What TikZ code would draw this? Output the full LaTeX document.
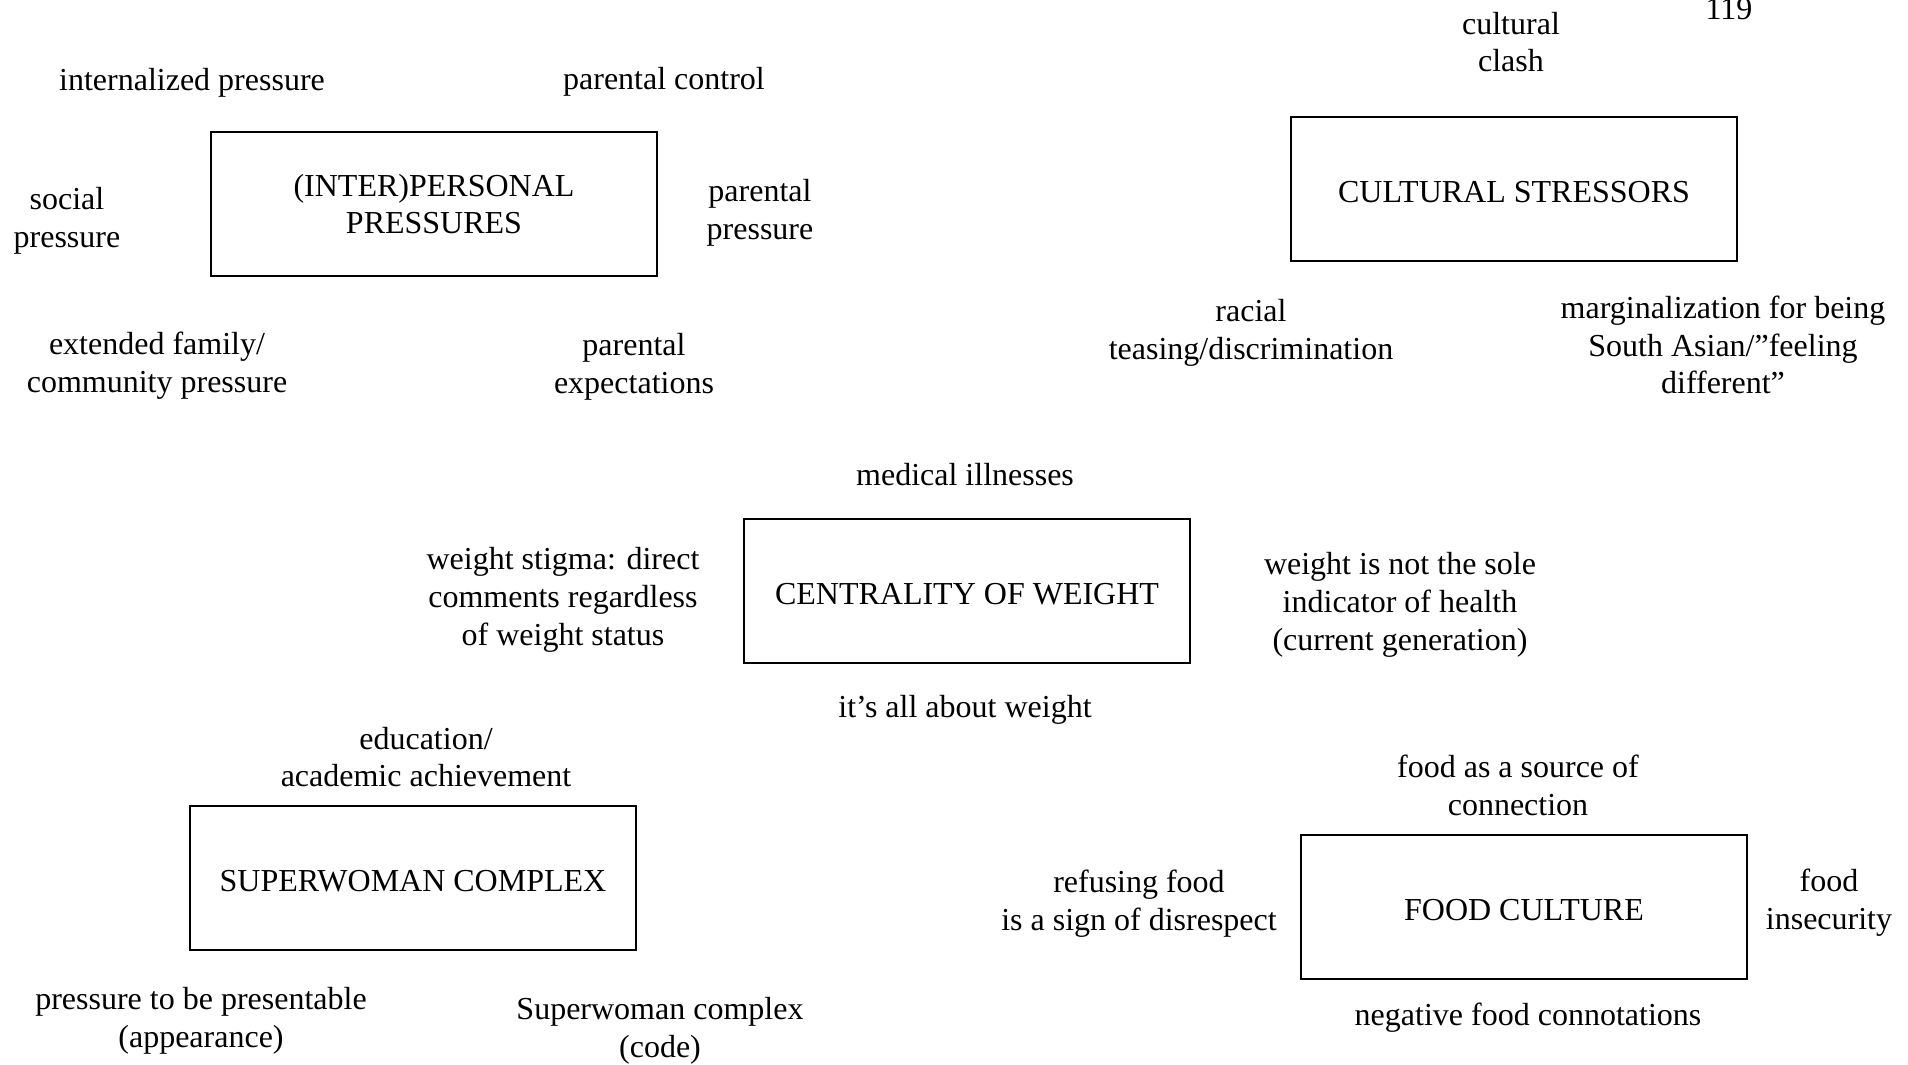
\documentclass[tikz,border=0pt]{standalone}
\usepackage{fontspec}
\setmainfont{Liberation Serif}
\usepackage{tikz}

\tikzset{
	theme box/.style = {draw, line width=1pt, minimum width=223.3pt, minimum height=72.4pt, align=center, inner sep=0pt},
	one line/.style = {text height=13.6pt, text depth=0pt},
	code label/.style = {align=center, inner sep=0pt}
}

\begin{document}
\begin{tikzpicture}[x=0.5pt, y=-0.5pt, font=\fontsize{16}{18.9}\selectfont]
			\useasboundingbox (0, 0) rectangle (1908, 1065);
			% page number
			\node[anchor=base] (pagenum) at (1729, 20) {119};
			% themes
			\node[theme box] (interpersonal) at (434, 204) {(INTER)PERSONAL\\PRESSURES};
			\node[theme box, one line] (cultural) at (1514, 189) {CULTURAL STRESSORS};
			\node[theme box, one line] (weight) at (967, 591) {CENTRALITY OF WEIGHT};
			\node[theme box, one line] (superwoman) at (413, 878) {SUPERWOMAN COMPLEX};
			\node[theme box, one line] (food) at (1524, 907) {FOOD CULTURE};
			% (inter)personal pressures
			\node[code label] (internalized) at (192, 83) {internalized pressure};
			\node[code label] (control) at (664, 82) {parental control};
			\node[code label] (social) at (67, 221) {social\\pressure};
			\node[code label] (parentpress) at (760, 213) {parental\\pressure};
			\node[code label] (family) at (157, 366) {extended family/\\community pressure};
			\node[code label] (expect) at (634, 367) {parental\\expectations};
			% cultural stressors
			\node[code label] (clash) at (1511, 42) {cultural\\clash};
			\node[code label] (racial) at (1251, 333) {racial\\teasing/discrimination};
			\node[code label] (margin) at (1723, 345) {marginalization for being\\South Asian/”feeling\\different”};
			% centrality of weight
			\node[code label] (medical) at (965, 475) {medical illnesses};
			\node[code label] (stigma) at (563, 600) {weight stigma: direct\\comments regardless\\of weight status};
			\node[code label] (sole) at (1400, 605) {weight is not the sole\\indicator of health\\(current generation)};
			\node[code label] (allabout) at (965, 710) {it’s all about weight};
			% superwoman complex
			\node[code label] (education) at (426, 757) {education/\\academic achievement};
			\node[code label] (presentable) at (201, 1021) {pressure to be presentable\\(appearance)};
			\node[code label] (swcode) at (660, 1031) {Superwoman complex\\(code)};
			% food culture
			\node[code label] (connection) at (1518, 785) {food as a source of\\connection};
			\node[code label] (refusing) at (1139, 904) {refusing food\\is a sign of disrespect};
			\node[code label] (insecurity) at (1829, 903) {food\\insecurity};
			\node[code label] (negative) at (1528, 1018) {negative food connotations};
		\end{tikzpicture}
\end{document}
